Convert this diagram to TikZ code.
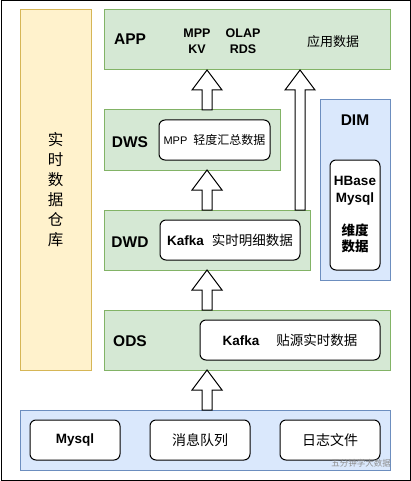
\documentclass[tikz,border=0pt]{standalone}
\usepackage{fontspec}
\setmainfont{Liberation Sans}
\newfontfamily\cjk{Noto Sans CJK SC}
\usetikzlibrary{calc}
\definecolor{gfill}{HTML}{D5E8D4}
\definecolor{gline}{HTML}{82B366}
\definecolor{yfill}{HTML}{FFF2CC}
\definecolor{yline}{HTML}{D6B656}
\definecolor{bfill}{HTML}{DAE8FC}
\definecolor{bline}{HTML}{6C8EBF}
\begin{document}
\begin{tikzpicture}[x=1pt,y=-1pt,
  box/.style={draw, line width=1pt, anchor=north west, inner sep=0pt, outer sep=0pt},
  gbox/.style={box, fill=gfill, draw=gline},
  ybox/.style={box, fill=yfill, draw=yline},
  bbox/.style={box, fill=bfill, draw=bline},
  wbox/.style={box, fill=white, draw=black, rounded corners=6pt},
  lbl/.style={font=\fontsize{15.5}{18}\selectfont\bfseries, anchor=base},
  txt/.style={font=\fontsize{13.5}{16}\selectfont\bfseries, inner sep=0pt},
  fat/.style={draw=black, fill=white, line width=1pt, line join=miter,
    to path={let \p1=(\tikztostart), \p2=(\tikztotarget) in
      (\x1-5pt,\y1) -- (\x1-5pt,\y2-20pt) -- (\x1-15pt,\y2-20pt) -- (\x1,\y2)
      -- (\x1+15pt,\y2-20pt) -- (\x1+5pt,\y2-20pt) -- (\x1+5pt,\y1) -- cycle}}
]
\useasboundingbox (0,0) rectangle (411,481);
\draw[line width=1pt] (1,1) rectangle (410,480);

% boxes
\node[ybox, minimum width=71pt, minimum height=360pt] (dw) at (20,10) {};
\node[gbox, minimum width=286pt, minimum height=60pt] (app) at (104,10) {};
\node[gbox, minimum width=176pt, minimum height=60pt] (dws) at (104,110) {};
\node[wbox, minimum width=111pt, minimum height=40pt] (dwsin) at (159,120) {};
\node[gbox, minimum width=206pt, minimum height=60pt] (dwd) at (104,210) {};
\node[wbox, minimum width=140pt, minimum height=40pt] (dwdin) at (160,220) {};
\node[bbox, minimum width=70pt, minimum height=180pt] (dim) at (320,100) {};
\node[wbox, minimum width=50pt, minimum height=110pt] (dimin) at (330,160) {};
\node[gbox, minimum width=286pt, minimum height=60pt] (ods) at (104,310) {};
\node[wbox, minimum width=180pt, minimum height=40pt] (odsin) at (200,320) {};
\node[bbox, minimum width=370pt, minimum height=60pt] (src) at (20,410) {};
\node[wbox, minimum width=90pt, minimum height=40pt] (mysql) at (30,420) {};
\node[wbox, minimum width=100pt, minimum height=40pt] (mq) at (150,420) {};
\node[wbox, minimum width=100pt, minimum height=40pt] (log) at (280,420) {};

% arrows
\coordinate (ax1) at (207,0);
\coordinate (ax2) at (300,0);
\draw[fat] (src.north -| ax1) to (ods.south -| ax1);
\draw[fat] (ods.north -| ax1) to (dwd.south -| ax1);
\draw[fat] (dwd.north -| ax1) to (dws.south -| ax1);
\draw[fat] (dws.north -| ax1) to (app.south -| ax1);
\draw[fat] (dwd.north -| ax2) to (app.south -| ax2);

% texts
\node[font=\cjk\fontsize{15.5}{20}\selectfont, align=center, inner sep=0pt] (vt) at (55.5,190) {实\\时\\数\\据\\仓\\库};

\node[lbl] (applbl) at (130,45) {APP};
\node[font=\fontsize{12.5}{16}\selectfont\bfseries, align=center, anchor=base] (mpp) at (197,54) {MPP\\KV};
\node[font=\fontsize{12.5}{16}\selectfont\bfseries, align=center, anchor=base] (olap) at (243,54) {OLAP\\RDS};
\node[font=\cjk\fontsize{13}{16}\selectfont, inner sep=0pt] (appdata) at (333,42) {应用数据};

\node[lbl] (dwslbl) at (130,147) {DWS};
\node[inner sep=0pt] (dwstxt) at (dwsin.center) {\fontsize{11}{13}\selectfont MPP\hspace{6pt}{\cjk\fontsize{12}{13}\selectfont 轻度汇总数据}};

\node[lbl] (dwdlbl) at (130,247) {DWD};
\node[txt] (dwdtxt) at (dwdin.center) {Kafka\hspace{8pt}{\cjk\mdseries 实时明细数据}};

\node[lbl] (dimlbl) at (355,126) {DIM};
\node[font=\fontsize{13.5}{16.5}\selectfont\bfseries, inner sep=0pt, align=center] (dimtxt) at (dimin.center) {HBase\\Mysql\\[16.5pt]{\cjk 维度}\\{\cjk 数据}};

\node[lbl] (odslbl) at (130,346) {ODS};
\node[txt] (odstxt) at (odsin.center) {Kafka\hspace{17pt}{\cjk\mdseries 贴源实时数据}};

\node[txt] (mysqltxt) at (mysql.center) {Mysql};
\node[font=\cjk\fontsize{14}{16}\selectfont, inner sep=0pt] (mqtxt) at (mq.center) {消息队列};
\node[font=\cjk\fontsize{14}{16}\selectfont, inner sep=0pt] (logtxt) at (log.center) {日志文件};

\node[font=\cjk\fontsize{8.5}{10}\selectfont, text=black!45, inner sep=0pt] (wm) at (361,463) {五分钟学大数据};
\end{tikzpicture}
\end{document}
